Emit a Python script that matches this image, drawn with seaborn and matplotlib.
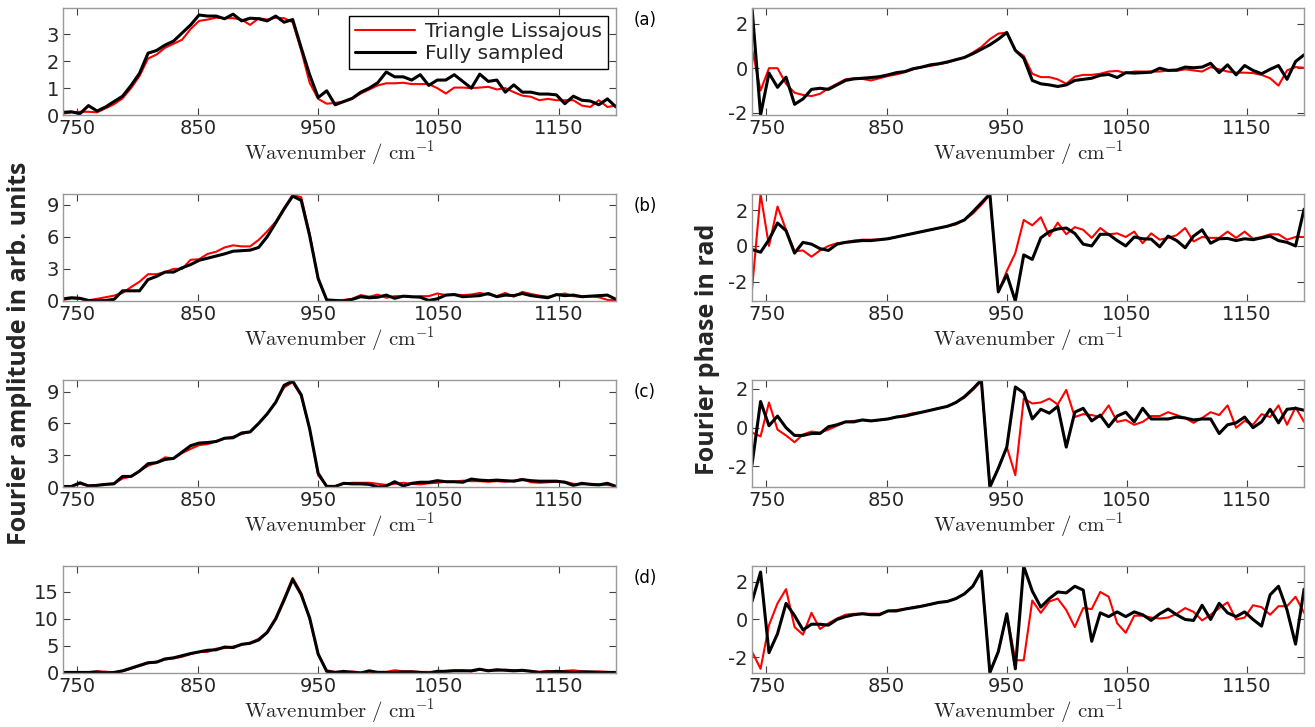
import matplotlib
matplotlib.use('Agg')
import matplotlib.pyplot as plt
import seaborn as sns

# wavenumber grid (cm^-1)
wavenumber = [738.0, 745.1, 752.1, 759.2, 766.3, 773.4, 780.4, 787.5, 794.6, 801.6,
              808.7, 815.8, 822.8, 829.9, 837.0, 844.1, 851.1, 858.2, 865.3, 872.3,
              879.4, 886.5, 893.5, 900.6, 907.7, 914.8, 921.8, 928.9, 936.0, 943.0,
              950.1, 957.2, 964.2, 971.3, 978.4, 985.5, 992.5, 999.6, 1006.7, 1013.7,
              1020.8, 1027.9, 1034.9, 1042.0, 1049.1, 1056.2, 1063.2, 1070.3, 1077.4, 1084.4,
              1091.5, 1098.6, 1105.6, 1112.7, 1119.8, 1126.9, 1133.9, 1141.0, 1148.1, 1155.1,
              1162.2, 1169.3, 1176.3, 1183.4, 1190.5, 1197.6]

# (a)
amp_a_full = [0.10, 0.12, 0.05, 0.35, 0.15, 0.30, 0.50, 0.70, 1.10, 1.55,
              2.30, 2.40, 2.60, 2.75, 3.05, 3.35, 3.72, 3.68, 3.68, 3.58,
              3.75, 3.50, 3.60, 3.58, 3.50, 3.68, 3.45, 3.55, 2.50, 1.50,
              0.65, 0.90, 0.38, 0.50, 0.62, 0.85, 1.00, 1.20, 1.60, 1.42,
              1.42, 1.30, 1.50, 1.10, 1.30, 1.30, 1.50, 1.25, 1.00, 1.52,
              1.25, 1.30, 0.85, 1.12, 0.85, 0.85, 0.78, 0.78, 0.75, 0.42,
              0.70, 0.55, 0.52, 0.38, 0.60, 0.30]
amp_a_tri = [0.05, 0.10, 0.12, 0.12, 0.10, 0.25, 0.40, 0.62, 1.00, 1.45,
             2.10, 2.25, 2.50, 2.65, 2.80, 3.20, 3.50, 3.55, 3.62, 3.60,
             3.60, 3.55, 3.35, 3.60, 3.55, 3.62, 3.60, 3.45, 2.40, 1.20,
             0.60, 0.42, 0.45, 0.50, 0.60, 0.80, 0.95, 1.10, 1.18, 1.18,
             1.20, 1.15, 1.15, 1.15, 1.00, 0.80, 1.02, 1.02, 1.00, 1.02,
             1.05, 0.95, 1.00, 0.85, 0.72, 0.68, 0.55, 0.60, 0.55, 0.55,
             0.55, 0.35, 0.30, 0.55, 0.30, 0.35]
ph_a_full = [2.70, -2.10, -0.22, -0.86, -0.40, -1.62, -1.38, -0.95, -0.90, -0.95,
             -0.75, -0.55, -0.48, -0.45, -0.42, -0.38, -0.30, -0.20, -0.15, -0.02,
             0.05, 0.15, 0.20, 0.28, 0.38, 0.48, 0.65, 0.85, 1.05, 1.30,
             1.60, 0.80, 0.45, -0.55, -0.70, -0.75, -0.82, -0.75, -0.55, -0.50,
             -0.45, -0.32, -0.28, -0.42, -0.20, -0.22, -0.20, -0.18, 0.00, -0.10,
             -0.08, 0.05, 0.02, 0.05, 0.22, -0.20, 0.15, -0.30, 0.12, -0.10,
             -0.25, -0.05, 0.12, -0.50, 0.30, 0.60]
ph_a_tri = [0.85, -1.00, 0.00, 0.00, -0.70, -1.10, -1.20, -1.25, -1.15, -0.90,
            -0.70, -0.50, -0.45, -0.48, -0.55, -0.45, -0.35, -0.28, -0.18, -0.05,
            0.05, 0.10, 0.18, 0.25, 0.38, 0.48, 0.70, 0.95, 1.30, 1.55,
            1.60, 0.80, 0.55, -0.25, -0.40, -0.40, -0.50, -0.70, -0.38, -0.30,
            -0.30, -0.25, -0.15, -0.12, -0.22, -0.15, -0.15, -0.15, -0.15, -0.10,
            -0.12, -0.05, -0.10, -0.15, 0.05, -0.05, -0.15, -0.20, -0.20, -0.22,
            -0.30, -0.45, -0.78, -0.10, 0.05, 0.02]

# (b)
amp_b_full = [0.20, 0.30, 0.25, 0.05, 0.05, 0.05, 0.15, 0.95, 0.95, 0.95,
              2.00, 2.30, 2.70, 2.70, 3.10, 3.40, 3.80, 4.00, 4.20, 4.40,
              4.65, 4.70, 4.75, 5.00, 6.00, 7.30, 8.60, 9.80, 9.40, 6.10,
              2.10, 0.10, 0.05, 0.00, 0.15, 0.40, 0.30, 0.35, 0.55, 0.25,
              0.45, 0.40, 0.35, 0.05, 0.20, 0.55, 0.60, 0.40, 0.45, 0.50,
              0.70, 0.40, 0.55, 0.50, 0.70, 0.50, 0.40, 0.30, 0.60, 0.50,
              0.55, 0.40, 0.45, 0.50, 0.55, 0.15]
amp_b_tri = [0.10, 0.25, 0.20, 0.05, 0.20, 0.35, 0.50, 0.75, 1.30, 1.80,
             2.50, 2.50, 2.70, 3.00, 3.00, 3.85, 3.90, 4.40, 4.60, 5.00,
             5.20, 5.10, 5.10, 5.70, 6.50, 7.40, 8.70, 9.90, 9.70, 6.30,
             2.00, 0.10, 0.05, 0.10, 0.20, 0.55, 0.40, 0.60, 0.30, 0.45,
             0.45, 0.35, 0.45, 0.45, 0.70, 0.55, 0.60, 0.55, 0.60, 0.75,
             0.60, 0.45, 0.75, 0.40, 0.85, 0.65, 0.50, 0.40, 0.55, 0.70,
             0.45, 0.40, 0.45, 0.35, 0.10, 0.05]
ph_b_full = [-0.20, -0.35, 0.35, 1.28, 0.85, -0.40, 0.20, 0.10, -0.15, -0.25,
             0.10, 0.20, 0.25, 0.30, 0.30, 0.35, 0.40, 0.50, 0.60, 0.70,
             0.80, 0.90, 1.00, 1.10, 1.25, 1.45, 1.90, 2.40, 2.90, -2.55,
             -1.60, -3.07, -0.50, -0.75, 0.45, 0.80, 0.95, 1.00, 0.70, 0.10,
             0.00, 0.65, 0.65, 0.30, 0.00, 0.50, 0.40, 0.38, -0.05, 0.55,
             0.30, -0.10, 0.55, 0.90, 0.15, 0.40, 0.42, 0.30, 0.40, 0.35,
             0.45, 0.55, 0.30, 0.20, 0.00, 2.05]
ph_b_tri = [-2.40, 2.90, 0.00, 2.20, 0.90, -0.30, -0.25, -0.60, -0.25, 0.00,
            0.15, 0.20, 0.30, 0.35, 0.35, 0.35, 0.40, 0.50, 0.60, 0.70,
            0.80, 0.90, 1.00, 1.10, 1.20, 1.45, 1.80, 2.30, 2.85, -2.60,
            -1.40, -0.40, 1.45, 1.15, 1.60, 0.55, 1.30, 0.65, 1.05, 0.90,
            0.45, 1.00, 0.65, 0.70, 0.50, 0.80, 0.15, 0.70, 0.35, 0.45,
            0.60, 1.00, 0.25, 0.50, 0.45, 0.45, 0.80, 0.45, 0.80, 0.40,
            0.50, 0.65, 0.65, 0.35, 0.50, 0.50]

# (c)
amp_c_full = [0.05, 0.05, 0.40, 0.10, 0.15, 0.25, 0.30, 1.00, 1.00, 1.50,
              2.20, 2.30, 2.60, 2.70, 3.30, 3.90, 4.15, 4.20, 4.30, 4.60,
              4.65, 5.10, 5.20, 6.00, 6.90, 8.00, 9.60, 10.00, 8.70, 5.50,
              1.30, 0.05, 0.05, 0.35, 0.30, 0.30, 0.25, 0.00, 0.10, 0.50,
              0.10, 0.35, 0.45, 0.45, 0.60, 0.50, 0.50, 0.45, 0.75, 0.65,
              0.60, 0.65, 0.60, 0.55, 0.70, 0.60, 0.55, 0.55, 0.55, 0.45,
              0.15, 0.35, 0.25, 0.20, 0.35, 0.05]
amp_c_tri = [0.05, 0.10, 0.30, 0.15, 0.20, 0.25, 0.35, 0.80, 1.00, 1.50,
             2.00, 2.30, 2.80, 2.70, 3.20, 3.60, 3.95, 4.05, 4.30, 4.60,
             4.75, 5.00, 5.20, 6.00, 6.90, 8.00, 9.40, 9.90, 8.60, 5.50,
             1.10, 0.10, 0.10, 0.30, 0.40, 0.40, 0.40, 0.30, 0.20, 0.30,
             0.40, 0.30, 0.25, 0.35, 0.40, 0.50, 0.50, 0.60, 0.55, 0.55,
             0.50, 0.55, 0.50, 0.60, 0.75, 0.45, 0.40, 0.45, 0.50, 0.50,
             0.30, 0.25, 0.30, 0.25, 0.20, 0.10]
ph_c_full = [-1.90, 1.35, 0.10, 0.60, 0.00, -0.40, -0.40, -0.30, -0.30, 0.05,
             0.15, 0.30, 0.30, 0.40, 0.35, 0.40, 0.45, 0.55, 0.60, 0.70,
             0.80, 0.90, 1.00, 1.10, 1.30, 1.60, 2.00, 2.46, -3.06, -2.10,
             -1.00, 2.10, 1.80, 0.45, 0.95, 0.75, 1.10, -1.00, 0.80, 1.00,
             0.35, 0.65, 0.05, 0.60, 0.80, 0.30, 1.00, 0.45, 0.45, 0.45,
             0.55, 0.50, 0.40, 0.45, 0.45, -0.30, 0.15, 0.25, 0.55, 0.00,
             0.30, 0.95, 0.25, 0.95, 1.00, 0.90]
ph_c_tri = [-0.25, -0.45, 1.30, -0.10, -0.40, -0.75, -0.35, -0.20, -0.25, -0.10,
            0.10, 0.30, 0.35, 0.40, 0.35, 0.40, 0.45, 0.55, 0.65, 0.75,
            0.80, 0.90, 1.00, 1.10, 1.30, 1.55, 1.95, 2.40, -3.00, -2.10,
            -1.00, -2.45, 1.50, 1.25, 1.30, 1.50, 1.20, 1.95, 0.55, 0.70,
            0.65, 0.55, 1.15, 0.30, 0.40, 0.15, 0.30, 0.60, 0.60, 0.80,
            0.65, 0.50, 0.25, 0.50, 0.80, 0.65, 1.15, 0.00, 0.35, 0.15,
            0.70, 0.55, 1.15, 0.15, 1.05, 0.30]

# (d)
amp_d_full = [0.10, 0.10, 0.10, 0.10, 0.20, 0.00, 0.10, 0.40, 0.90, 1.40,
              1.90, 2.00, 2.60, 2.80, 3.20, 3.60, 3.90, 4.20, 4.30, 4.80,
              4.70, 5.30, 5.50, 6.10, 7.50, 10.00, 13.50, 17.30, 14.50, 10.20,
              3.50, 0.30, 0.10, 0.30, 0.10, 0.00, 0.40, 0.10, 0.10, 0.10,
              0.20, 0.20, 0.10, 0.00, 0.30, 0.30, 0.40, 0.40, 0.40, 0.70,
              0.40, 0.60, 0.50, 0.40, 0.50, 0.30, 0.10, 0.20, 0.30, 0.20,
              0.10, 0.20, 0.20, 0.10, 0.10, 0.10]
amp_d_tri = [0.05, 0.10, 0.15, 0.10, 0.30, 0.25, 0.10, 0.30, 0.80, 1.30,
             1.80, 2.10, 2.50, 2.70, 3.00, 3.50, 3.90, 3.90, 4.50, 4.60,
             4.90, 5.20, 5.60, 6.30, 7.60, 10.20, 13.80, 17.60, 14.80, 10.00,
             3.40, 0.50, 0.20, 0.20, 0.30, 0.10, 0.20, 0.20, 0.20, 0.50,
             0.30, 0.30, 0.20, 0.20, 0.20, 0.40, 0.50, 0.50, 0.30, 0.60,
             0.50, 0.40, 0.60, 0.50, 0.40, 0.40, 0.20, 0.40, 0.20, 0.40,
             0.50, 0.30, 0.20, 0.30, 0.20, 0.10]
ph_d_full = [0.95, 2.50, -1.75, -0.75, 0.85, 0.20, -0.55, -0.25, -0.25, -0.30,
             0.00, 0.15, 0.25, 0.30, 0.25, 0.25, 0.45, 0.45, 0.55, 0.62,
             0.70, 0.80, 0.90, 0.95, 1.10, 1.35, 1.75, 2.55, -2.80, -1.70,
             0.30, -2.60, 2.80, 1.50, 0.65, 1.10, 1.45, 1.40, 1.75, 1.55,
             -1.15, 0.35, 0.15, 0.40, 0.15, 0.40, 0.25, -0.05, 0.30, 0.55,
             0.25, 0.00, -0.05, 0.75, 0.00, 0.85, 0.35, 0.15, 0.40, 0.00,
             -0.35, 1.30, 1.75, 0.50, -1.30, 1.60]
ph_d_tri = [-1.70, -2.60, -0.30, 0.85, 1.60, -0.40, -0.80, 0.35, -0.50, -0.20,
            0.05, 0.25, 0.30, 0.30, 0.30, 0.30, 0.45, 0.50, 0.55, 0.65,
            0.72, 0.80, 0.90, 0.95, 1.10, 1.35, 1.75, 2.50, -2.80, -1.70,
            0.30, -2.15, -2.15, 1.00, 0.35, 0.95, 1.10, 0.50, -0.40, 0.60,
            0.55, 1.45, 1.20, -0.20, -0.70, 0.20, 0.20, 0.10, 0.05, 0.10,
            0.30, 0.60, 0.40, -0.05, 0.25, 0.60, 0.90, 0.00, 0.10, 0.75,
            0.65, 0.25, 0.70, 0.70, 1.20, 0.35]

panel_tags = ['(a)', '(b)', '(c)', '(d)']
amp_full = [amp_a_full, amp_b_full, amp_c_full, amp_d_full]
amp_tri = [amp_a_tri, amp_b_tri, amp_c_tri, amp_d_tri]
ph_full = [ph_a_full, ph_b_full, ph_c_full, ph_d_full]
ph_tri = [ph_a_tri, ph_b_tri, ph_c_tri, ph_d_tri]
amp_ylims = [(0, 3.98), (0, 10.0), (0, 10.1), (0, 19.8)]
amp_yticks = [[0, 1, 2, 3], [0, 3, 6, 9], [0, 3, 6, 9], [0, 5, 10, 15]]
ph_ylims = [(-2.1, 2.7), (-3.07, 2.9), (-3.06, 2.46), (-2.82, 2.82)]

sns.set_style('ticks')
plt.rcParams['font.family'] = ['DejaVu Sans']
plt.rcParams['mathtext.fontset'] = 'cm'
plt.rcParams['axes.unicode_minus'] = False

fig = plt.figure(figsize=(13.15, 7.27), dpi=100)

row_bottoms = [0.8418, 0.5860, 0.3301, 0.0743]
row_h = 0.1472


def style_axis(ax, ylim, yticks):
    ax.set_xlim(wavenumber[0], wavenumber[-1])
    ax.set_ylim(*ylim)
    ax.set_yticks(yticks)
    ax.set_xticks([750, 850, 950, 1050, 1150])
    ax.tick_params(direction='in', top=True, right=True, length=5, width=0.8,
                   color='#404040', labelsize=14, labelcolor='#262626', pad=3)
    for s in ax.spines.values():
        s.set_color('#999999')
        s.set_linewidth(1.0)
    ax.set_xlabel(r'$\mathrm{Wavenumber\ /\ cm^{-1}}$', fontsize=15, labelpad=0)
    ax.set_ylabel('')


for i in range(4):
    axl = fig.add_axes([0.0479, row_bottoms[i], 0.4205, row_h])
    sns.lineplot(x=wavenumber, y=amp_tri[i], color='red', lw=1.5, ax=axl,
                 label='Triangle Lissajous' if i == 0 else None)
    sns.lineplot(x=wavenumber, y=amp_full[i], color='black', lw=2.2, ax=axl,
                 label='Fully sampled' if i == 0 else None)
    style_axis(axl, amp_ylims[i], amp_yticks[i])
    if i == 0:
        axl.legend(loc='upper right', bbox_to_anchor=(0.986, 0.925), borderaxespad=0,
                   fontsize=14.5, frameon=True, fancybox=False, edgecolor='black',
                   framealpha=1, handlelength=3.0, handletextpad=0.5,
                   borderpad=0.3, labelspacing=0.15)
    fig.text(0.4905, row_bottoms[i] + row_h - 0.016, panel_tags[i], fontsize=12,
             ha='center', va='center', color='black')

    axr = fig.add_axes([0.5719, row_bottoms[i], 0.4198, row_h])
    sns.lineplot(x=wavenumber, y=ph_tri[i], color='red', lw=1.5, ax=axr)
    sns.lineplot(x=wavenumber, y=ph_full[i], color='black', lw=2.2, ax=axr)
    style_axis(axr, ph_ylims[i], [-2, 0, 2])

fig.text(0.015, 0.514, 'Fourier amplitude in arb. units', rotation=90, fontsize=18,
         fontweight='bold', family=['Open Sans', 'DejaVu Sans'], ha='center', va='center')
fig.text(0.538, 0.519, 'Fourier phase in rad', rotation=90, fontsize=18,
         fontweight='bold', family=['Open Sans', 'DejaVu Sans'], ha='center', va='center')

fig.savefig('out.png', dpi=100)
